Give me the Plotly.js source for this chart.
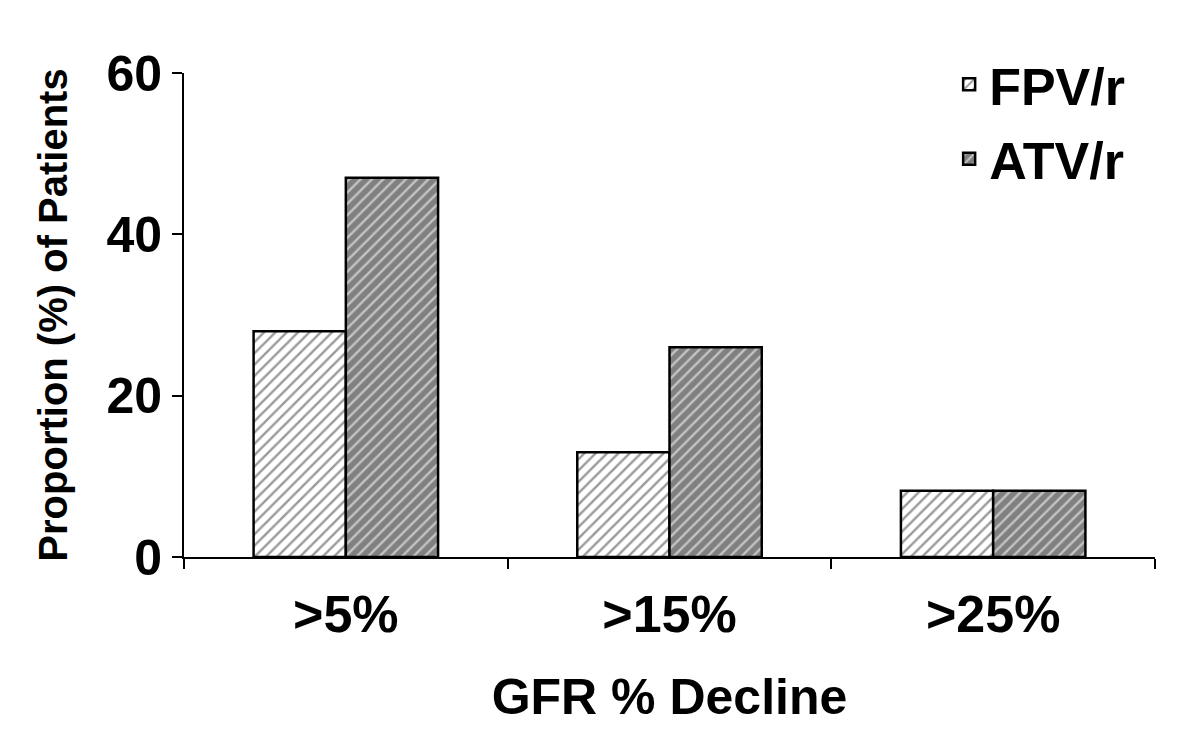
<!DOCTYPE html>
<html>
<head>
<meta charset="utf-8">
<script src="https://cdn.plot.ly/plotly-3.0.1.min.js"></script>
<style>html,body{margin:0;padding:0;background:#fff;}#chart{width:1200px;height:747px;}</style>
</head>
<body>
<div id="chart"></div>
<script>
const categories = [">5%", ">15%", ">25%"];
const fpvValues = [28, 13, 8.2];
const atvValues = [47, 26, 8.2];
const seriesNames = ["FPV/r", "ATV/r"];
const yTickValues = [0, 20, 40, 60];

const FONT = "Liberation Sans, Arial, sans-serif";

const traces = [
  {
    type: "bar", name: seriesNames[0], x: categories, y: fpvValues,
    legendgroup: "a",
    marker: {
      color: "#ffffff",
      line: {color: "#000000", width: 2.5},
      pattern: {shape: "/", fgcolor: "#9a9a9a", bgcolor: "#ffffff", size: 8, solidity: 0.3}
    },
    hoverinfo: "x+y"
  },
  {
    type: "bar", name: seriesNames[1], x: categories, y: atvValues,
    legendgroup: "b",
    marker: {
      color: "#808080",
      line: {color: "#000000", width: 2.5},
      pattern: {shape: "/", fgcolor: "#c4c4c4", bgcolor: "#808080", size: 8, solidity: 0.3}
    },
    hoverinfo: "x+y"
  }
];

const layout = {
  width: 1200, height: 747,
  paper_bgcolor: "#ffffff", plot_bgcolor: "#ffffff",
  margin: {l: 184, r: 45, t: 73, b: 190},
  barmode: "group", bargap: 0.43, bargroupgap: 0,
  font: {family: FONT, color: "#000000", weight: "bold"},
  showlegend: true,
  legend: {
    x: 0.788, y: 1.06, xanchor: "left", yanchor: "top",
    font: {family: FONT, size: 52, color: "#000000", weight: "bold"},
    bgcolor: "rgba(0,0,0,0)", traceorder: "grouped", tracegroupgap: 4,
    itemwidth: 30
  },
  xaxis: {
    type: "category", range: [-0.5, 2.5],
    showline: true, linecolor: "#000000", linewidth: 2,
    ticks: "outside", tickson: "boundaries", ticklen: 10, tickwidth: 2, tickcolor: "#000000",
    tickfont: {family: FONT, size: 52, color: "#000000", weight: "bold"},
    ticklabelstandoff: 11,
    showgrid: false, zeroline: false,
    title: {text: "GFR % Decline", font: {family: FONT, size: 50, color: "#000000", weight: "bold"}, standoff: 37}
  },
  yaxis: {
    range: [0, 60], tickvals: yTickValues,
    showline: true, linecolor: "#000000", linewidth: 2,
    ticks: "outside", ticklen: 10, tickwidth: 2, tickcolor: "#000000",
    tickfont: {family: FONT, size: 50, color: "#000000", weight: "bold"},
    showgrid: false, zeroline: false,
    title: {text: "Proportion (%) of Patients", font: {family: FONT, size: 40, color: "#000000", weight: "bold"}, standoff: 26}
  }
};

Plotly.newPlot("chart", traces, layout, {displayModeBar: false, staticPlot: true});
</script>
</body>
</html>
